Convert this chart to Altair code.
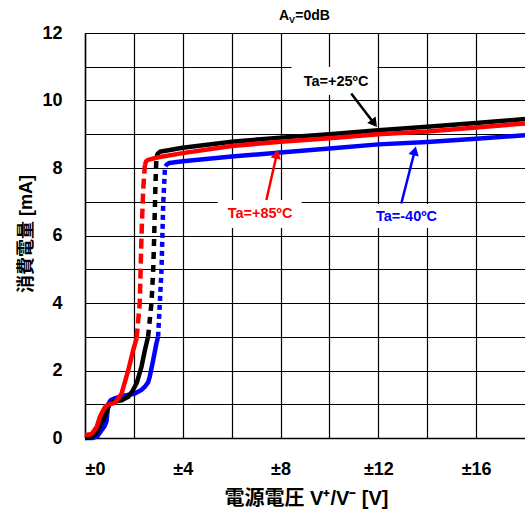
import math
import altair as alt
import pandas as pd

LATIN = "Liberation Sans"
MIXED = "Liberation Sans, Noto Sans CJK JP"

PLOT_W, PLOT_H = 440, 405
X_MAX, Y_MAX = 18, 12

# Supply current (mA) against supply voltage (±V) for three ambient temperatures.
# *_RISE gives the index range of the sparse, steep start-up section (drawn dashed).
T25_V = [0.0, 0.25, 0.45, 0.6, 0.75, 0.9, 1.0, 1.2, 1.5, 1.77, 1.95, 2.11, 2.31, 2.45, 2.58,
         2.72, 2.79, 2.83, 2.88, 2.92, 2.97, 3.06, 4, 6, 8, 10, 12, 14, 16, 18]
T25_I = [0.0, 0.02, 0.12, 0.35, 0.55, 0.8, 1.0, 1.08, 1.12, 1.22, 1.4, 1.62, 2.11, 2.6, 3.0,
         4.0, 4.98, 5.96, 7.45, 8.3, 8.42, 8.48, 8.6, 8.78, 8.9, 9.0, 9.12, 9.22, 9.33, 9.45]
T25_RISE = (14, 19)

T85_V = [0.0, 0.27, 0.48, 0.61, 0.75, 0.85, 1.0, 1.22, 1.5, 1.77, 1.97, 2.11, 2.24, 2.31,
         2.38, 2.45, 2.5, 2.58, 3, 4, 6, 8, 10, 12, 14, 16, 18]
T85_I = [0.08, 0.12, 0.33, 0.63, 0.83, 0.95, 1.0, 1.04, 1.32, 2.01, 2.6, 2.95, 4.0, 5.96,
         7.35, 8.09, 8.2, 8.24, 8.32, 8.44, 8.65, 8.78, 8.88, 9.0, 9.08, 9.2, 9.32]
T85_RISE = (11, 15)

TM40_V = [0.0, 0.3, 0.5, 0.65, 0.8, 0.88, 0.95, 1.05, 1.22, 1.6, 2.04, 2.3, 2.45, 2.58, 2.65,
          2.79, 2.92, 2.99, 3.06, 3.13, 3.2, 3.27, 3.3, 3.34, 3.45, 4, 6, 8, 10, 12, 14, 16, 18]
TM40_I = [0.0, 0.0, 0.05, 0.2, 0.35, 0.5, 1.0, 1.12, 1.18, 1.25, 1.32, 1.42, 1.52, 1.65, 1.82,
          2.31, 2.8, 3.0, 4.0, 4.98, 6.95, 7.99, 8.05, 8.1, 8.15, 8.2, 8.34, 8.46, 8.58, 8.7,
          8.77, 8.87, 8.97]
TM40_RISE = (17, 22)

# Temperature labels, their white boxes and arrows (tail -> tip), in data units
LABELS = ["Ta=+25ºC", "Ta=+85ºC", "Ta=-40ºC"]
LABEL_COLORS = ["#000000", "#ff0000", "#0000ff"]
LABEL_V = [10.27, 7.16, 13.15]
LABEL_I = [10.55, 6.64, 6.55]
BOX_V1 = [8.45, 5.43, 11.4]
BOX_V2 = [11.96, 8.86, 14.8]
BOX_I1 = [10.16, 6.22, 6.22]
BOX_I2 = [10.99, 7.05, 6.93]
ARROW_TAIL_V = [10.89, 7.42, 12.94]
ARROW_TAIL_I = [10.21, 7.05, 6.95]
ARROW_TIP_V = [11.98, 7.9, 13.55]
ARROW_TIP_I = [9.18, 8.58, 8.68]

X_GRID = [0, 2, 4, 6, 8, 10, 12, 14, 16]
Y_GRID = list(range(0, 13))

x_scale = alt.Scale(domain=[0, X_MAX], nice=False, zero=False)
y_scale = alt.Scale(domain=[0, Y_MAX], nice=False, zero=False)

x_enc = alt.X(
    "v:Q", scale=x_scale,
    axis=alt.Axis(
        values=X_GRID,
        labelExpr="datum.value % 4 == 0 ? '±' + datum.value : ''",
        title="電源電圧 V⁺/V⁻ [V]",
        titleFont=MIXED, titleFontSize=20, titleFontWeight="bold",
        titleX=PLOT_W / 2 + 1, titleY=66, titleBaseline="alphabetic", titleAnchor="middle",
        labelPadding=22,
    ),
)
y_enc = alt.Y(
    "i:Q", scale=y_scale,
    axis=alt.Axis(
        values=Y_GRID,
        labelExpr="datum.value % 2 == 0 ? datum.label : ''",
        title="消費電量 [mA]",
        titleFont=MIXED, titleFontSize=18, titleFontWeight="bold",
        titleAngle=270, titleX=-54, titleY=PLOT_H / 2 - 2,
        titleBaseline="alphabetic", titleAlign="center",
        labelPadding=23,
    ),
)


def curve_layers(vs, cs, rise, color, dash):
    a, b = rise
    parts = [
        (vs[: a + 1], cs[: a + 1], None),
        (vs[a: b + 1], cs[a: b + 1], dash),
        (vs[b:], cs[b:], None),
    ]
    layers = []
    for pv, pc, pd_ in parts:
        df = pd.DataFrame({"v": pv, "i": pc, "k": list(range(len(pv)))})
        kw = dict(color=color, strokeWidth=4.5, strokeCap="butt", strokeJoin="round")
        if pd_ is not None:
            kw["strokeDash"] = pd_
        layers.append(
            alt.Chart(df).mark_line(**kw).encode(x=x_enc, y=y_enc, order="k:Q")
        )
    return layers


px_v = PLOT_W / X_MAX
px_i = PLOT_H / Y_MAX

boxes = pd.DataFrame({"v": BOX_V1, "v2": BOX_V2, "i": BOX_I1, "i2": BOX_I2})
box_layer = alt.Chart(boxes).mark_rect(color="white").encode(
    x=x_enc, x2="v2:Q", y=y_enc, y2="i2:Q"
)

# arrow shafts stop where the head starts; heads are rotated triangles
shaft_rows, head_rows = [], []
HEAD_BACK = 6.0
for k in range(3):
    dx = (ARROW_TIP_V[k] - ARROW_TAIL_V[k]) * px_v
    dy = -(ARROW_TIP_I[k] - ARROW_TAIL_I[k]) * px_i
    ln = math.hypot(dx, dy)
    ux, uy = dx / ln, dy / ln
    hv = ARROW_TIP_V[k] - ux * HEAD_BACK / px_v
    hi = ARROW_TIP_I[k] + uy * HEAD_BACK / px_i
    ang = math.degrees(math.atan2(dx, -dy)) % 360
    shaft_rows.append({"v": ARROW_TAIL_V[k], "i": ARROW_TAIL_I[k], "v2": hv, "i2": hi, "c": LABEL_COLORS[k]})
    head_rows.append({"v": hv, "i": hi, "a": ang, "c": LABEL_COLORS[k]})

shafts = alt.Chart(pd.DataFrame(shaft_rows)).mark_rule(strokeWidth=2.5).encode(
    x=x_enc, y=y_enc, x2="v2:Q", y2="i2:Q", color=alt.Color("c:N", scale=None)
)
heads = alt.Chart(pd.DataFrame(head_rows)).mark_point(
    shape="triangle-up", filled=True, size=110, opacity=1
).encode(
    x=x_enc, y=y_enc, angle=alt.Angle("a:Q", scale=None), color=alt.Color("c:N", scale=None)
)

labels = pd.DataFrame({"v": LABEL_V, "i": LABEL_I, "t": LABELS, "c": LABEL_COLORS})
label_layer = alt.Chart(labels).mark_text(
    font=LATIN, fontSize=14.5, fontWeight="bold", baseline="middle", align="center"
).encode(x=x_enc, y=y_enc, text="t:N", color=alt.Color("c:N", scale=None))

# heading "A_V=0dB" with subscript V, placed above the plot
head_txt = pd.DataFrame({
    "v": [8.35, 8.35, 8.6],
    "i": [12.39, 12.31, 12.39],
    "t": ["A", "V", "=0dB"],
    "s": [14, 9, 14],
    "al": ["right", "left", "left"],
})
title_parts = []
for k in range(3):
    title_parts.append(
        alt.Chart(head_txt.iloc[[k]]).mark_text(
            font=LATIN, fontWeight="bold", fontSize=int(head_txt["s"][k]),
            align=head_txt["al"][k], baseline="alphabetic", color="black"
        ).encode(x=x_enc, y=y_enc, text="t:N")
    )

layers = [box_layer]
layers += curve_layers(TM40_V, TM40_I, TM40_RISE, "#0000ff", [5, 4])
layers += curve_layers(T25_V, T25_I, T25_RISE, "#000000", [7, 6])
layers += curve_layers(T85_V, T85_I, T85_RISE, "#ff0000", [10, 5])
layers += [shafts, heads, label_layer] + title_parts

chart = alt.layer(*layers).properties(
    width=PLOT_W, height=PLOT_H,
    background="white",
    autosize=alt.AutoSizeParams(type="none"),
    padding={"left": 85, "top": 33, "right": 0, "bottom": 77},
).configure_view(stroke=None).configure_axis(
    labelFont=LATIN, labelFontSize=18, labelFontWeight="bold", labelColor="black",
    ticks=False, domainColor="black", domainWidth=1.5,
    grid=True, gridColor="black", gridWidth=1.2, gridOpacity=1,
    titleColor="black",
)

chart.save("out.html", embed_options={"renderer": "svg", "actions": False})
